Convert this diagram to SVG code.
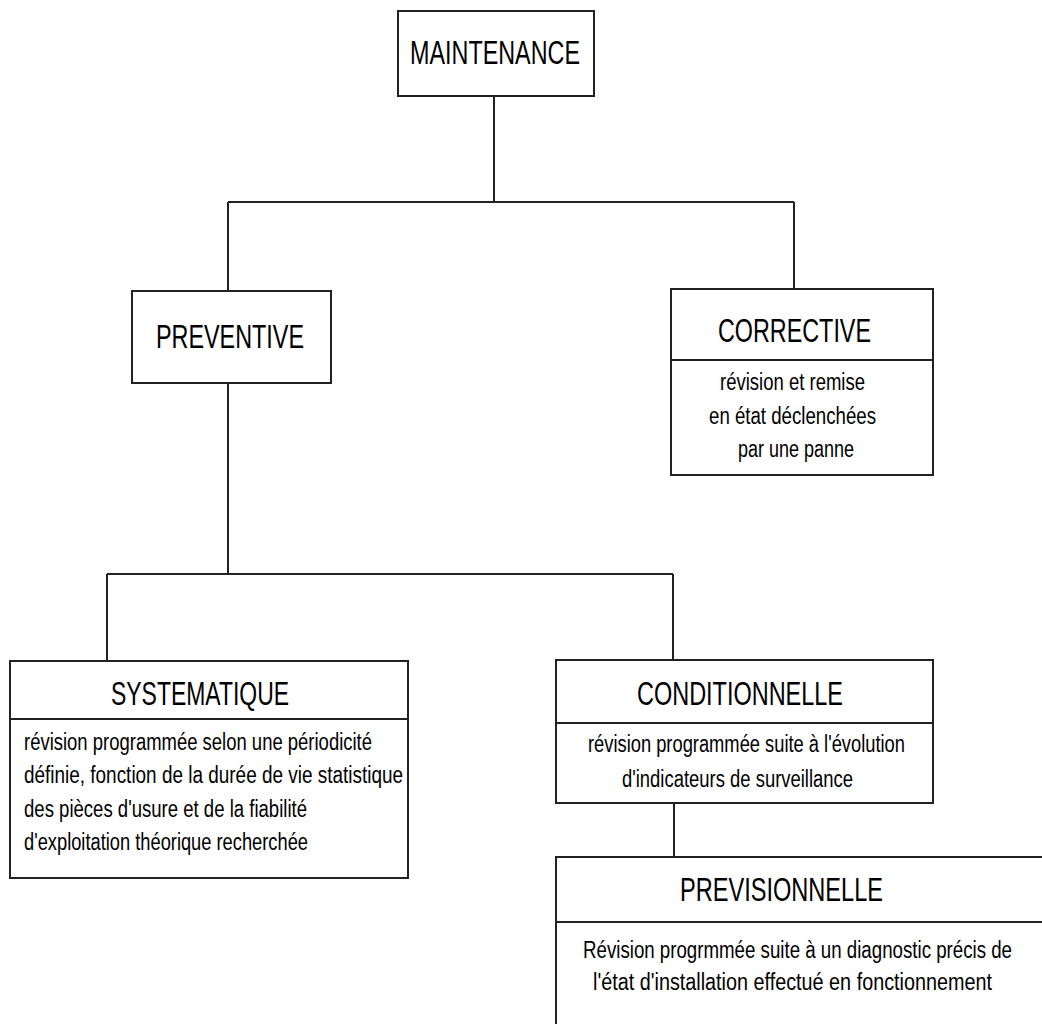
<svg xmlns="http://www.w3.org/2000/svg" width="1042" height="1024" viewBox="0 0 1042 1024">
<style>
.box{fill:#fff;stroke:#222;stroke-width:2}
.div{stroke:#222;stroke-width:2}
.con{fill:none;stroke:#222;stroke-width:2}
.t{font-family:"Liberation Sans",Arial,sans-serif;font-size:34px;fill:#000}
.b{font-family:"Liberation Sans",Arial,sans-serif;font-size:23px;fill:#000}
</style>
<rect width="1042" height="1024" fill="#fff"/>
<g id="connectors">
<path class="con" d="M494 96V202M228 202H794M228 202V291M794 202V289"/>
<path class="con" d="M228 383V574M107 574H673M107 574V661M673 574V660"/>
<path class="con" d="M674 803V857"/>
</g>
<g id="maintenance">
<rect class="box" x="398" y="11" width="196" height="85"/>
<text class="t" x="410" y="64" textLength="170" lengthAdjust="spacingAndGlyphs">MAINTENANCE</text>
</g>
<g id="preventive">
<rect class="box" x="132" y="291" width="199" height="92"/>
<text class="t" x="156" y="348" textLength="148" lengthAdjust="spacingAndGlyphs">PREVENTIVE</text>
</g>
<g id="corrective">
<rect class="box" x="671" y="289" width="262" height="186"/>
<line class="div" x1="671" y1="360" x2="933" y2="360"/>
<text class="t" x="718" y="342" textLength="153" lengthAdjust="spacingAndGlyphs">CORRECTIVE</text>
<text class="b" x="720" y="390" textLength="145" lengthAdjust="spacingAndGlyphs">révision et remise</text>
<text class="b" x="709" y="424" textLength="167" lengthAdjust="spacingAndGlyphs">en état déclenchées</text>
<text class="b" x="738" y="457" textLength="116" lengthAdjust="spacingAndGlyphs">par une panne</text>
</g>
<g id="systematique">
<rect class="box" x="10" y="661" width="398" height="217"/>
<line class="div" x1="10" y1="719" x2="408" y2="719"/>
<text class="t" x="111" y="705" textLength="178" lengthAdjust="spacingAndGlyphs">SYSTEMATIQUE</text>
<text class="b" x="24" y="750" textLength="348" lengthAdjust="spacingAndGlyphs">révision programmée selon une périodicité</text>
<text class="b" x="24" y="783" textLength="379" lengthAdjust="spacingAndGlyphs">définie, fonction de la durée de vie statistique</text>
<text class="b" x="24" y="817" textLength="283" lengthAdjust="spacingAndGlyphs">des pièces d'usure et de la fiabilité</text>
<text class="b" x="24" y="850" textLength="284" lengthAdjust="spacingAndGlyphs">d'exploitation théorique recherchée</text>
</g>
<g id="conditionnelle">
<rect class="box" x="556" y="660" width="377" height="143"/>
<line class="div" x1="556" y1="723" x2="933" y2="723"/>
<text class="t" x="637" y="705" textLength="206" lengthAdjust="spacingAndGlyphs">CONDITIONNELLE</text>
<text class="b" x="588" y="752" textLength="317" lengthAdjust="spacingAndGlyphs">révision programmée suite à l'évolution</text>
<text class="b" x="622" y="787" textLength="231" lengthAdjust="spacingAndGlyphs">d'indicateurs de surveillance</text>
</g>
<g id="previsionnelle">
<rect class="box" x="556" y="857" width="488" height="169"/>
<line class="div" x1="556" y1="922" x2="1044" y2="922"/>
<text class="t" x="680" y="901" textLength="203" lengthAdjust="spacingAndGlyphs">PREVISIONNELLE</text>
<text class="b" x="583" y="958" textLength="429" lengthAdjust="spacingAndGlyphs">Révision progrmmée suite à un diagnostic précis de</text>
<text class="b" x="593" y="990" textLength="399" lengthAdjust="spacingAndGlyphs">l'état d'installation effectué en fonctionnement</text>
</g>
</svg>
